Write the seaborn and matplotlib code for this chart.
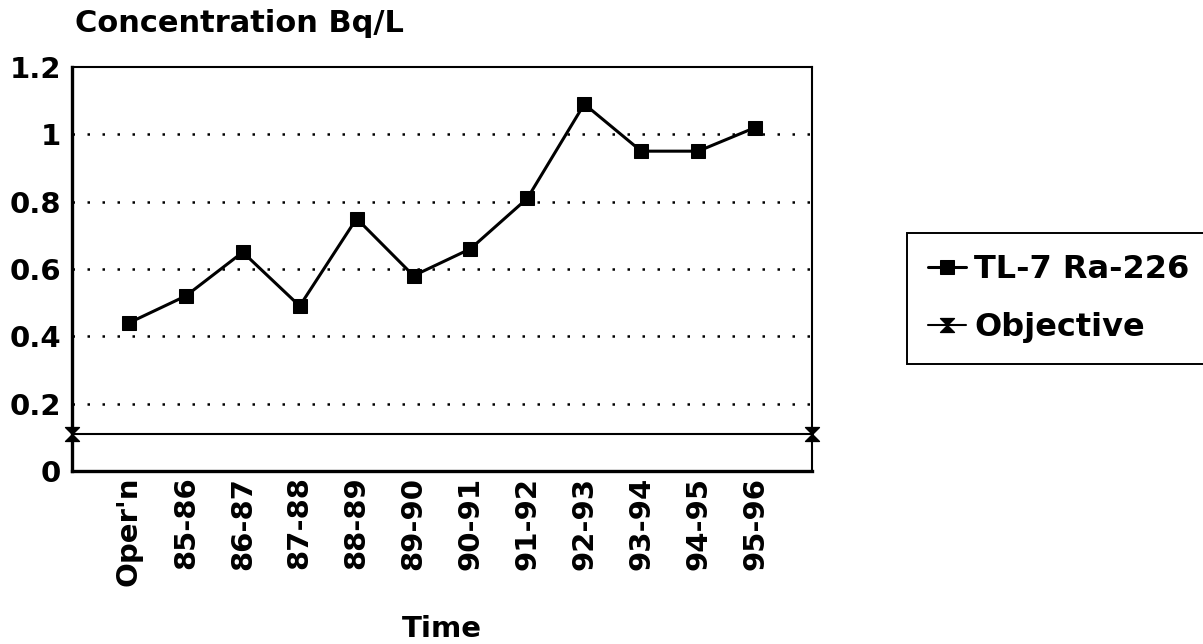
import matplotlib
matplotlib.use("Agg")
import matplotlib.pyplot as plt
import seaborn as sns
import pandas as pd
from matplotlib.path import Path

# data
periods = ["Oper'n", "85-86", "86-87", "87-88", "88-89", "89-90",
           "90-91", "91-92", "92-93", "93-94", "94-95", "95-96"]
ra226 = [0.44, 0.52, 0.65, 0.49, 0.75, 0.58, 0.66, 0.81, 1.09, 0.95, 0.95, 1.02]
objective = 0.11
yticks = [0, 0.2, 0.4, 0.6, 0.8, 1.0, 1.2]
ytick_labels = ["0", "0.2", "0.4", "0.6", "0.8", "1", "1.2"]

df = pd.DataFrame({"Time": periods, "Conc": ra226})

sns.set_style("white")
plt.rcParams["font.family"] = ["DejaVu Sans"]
plt.rcParams["font.weight"] = "bold"
for k in ["text.color", "axes.labelcolor", "xtick.color", "ytick.color"]:
    plt.rcParams[k] = "black"

fig = plt.figure(figsize=(12.03, 6.44), dpi=100)
ax = fig.add_axes([72/1203, 1-471/644, 740/1203, 404/644])

hourglass = Path([(-1, 1), (1, 1), (-1, -1), (1, -1), (-1, 1)],
                 [Path.MOVETO, Path.LINETO, Path.LINETO, Path.LINETO, Path.CLOSEPOLY])

sns.lineplot(data=df, x="Time", y="Conc", sort=False, ax=ax, color="black",
             linewidth=2.2, marker="s", markersize=9.5, markeredgecolor="black",
             label="TL-7 Ra-226", zorder=4)

ax.set_xlim(-1, 12)
ax.set_ylim(0, 1.2)
xl = ax.get_xlim()
ax.plot(xl, [objective, objective], color="black", linewidth=1.5,
        marker=hourglass, markersize=10, markerfacecolor="black",
        label="Objective", clip_on=False, zorder=5)

# dotted grid
for v in yticks[1:-1]:
    ax.axhline(v, color="black", linestyle=(0, (1, 5)), linewidth=1.8, zorder=1)

ax.set_yticks(yticks)
ax.set_yticklabels(ytick_labels)
ax.tick_params(axis="y", length=0, pad=8, labelsize=21)
ax.tick_params(axis="x", length=0, pad=4, labelsize=21, rotation=90)
for lab in ax.get_xticklabels() + ax.get_yticklabels():
    lab.set_fontweight("bold")

for side in ["left", "bottom"]:
    ax.spines[side].set_linewidth(2.4)
    ax.spines[side].set_color("black")
for side in ["top", "right"]:
    ax.spines[side].set_linewidth(1.5)
    ax.spines[side].set_color("black")

ax.set_ylabel("")
ax.set_xlabel("Time", fontsize=21, fontweight="bold", labelpad=21)

fig.text(75/1203, 1-32/644, "Concentration Bq/L", fontsize=22,
         fontweight="bold", va="baseline", ha="left")

leg = ax.legend(loc="upper left", bbox_to_anchor=(907/1203, 1-233/644),
                bbox_transform=fig.transFigure, frameon=True, fancybox=False,
                edgecolor="black", framealpha=1, fontsize=23, borderpad=0.65,
                labelspacing=0.85, handlelength=1.2, handletextpad=0.25,
                borderaxespad=0)
leg.get_frame().set_linewidth(1.4)
for t in leg.get_texts():
    t.set_fontweight("bold")

fig.savefig("out.png", dpi=100)
